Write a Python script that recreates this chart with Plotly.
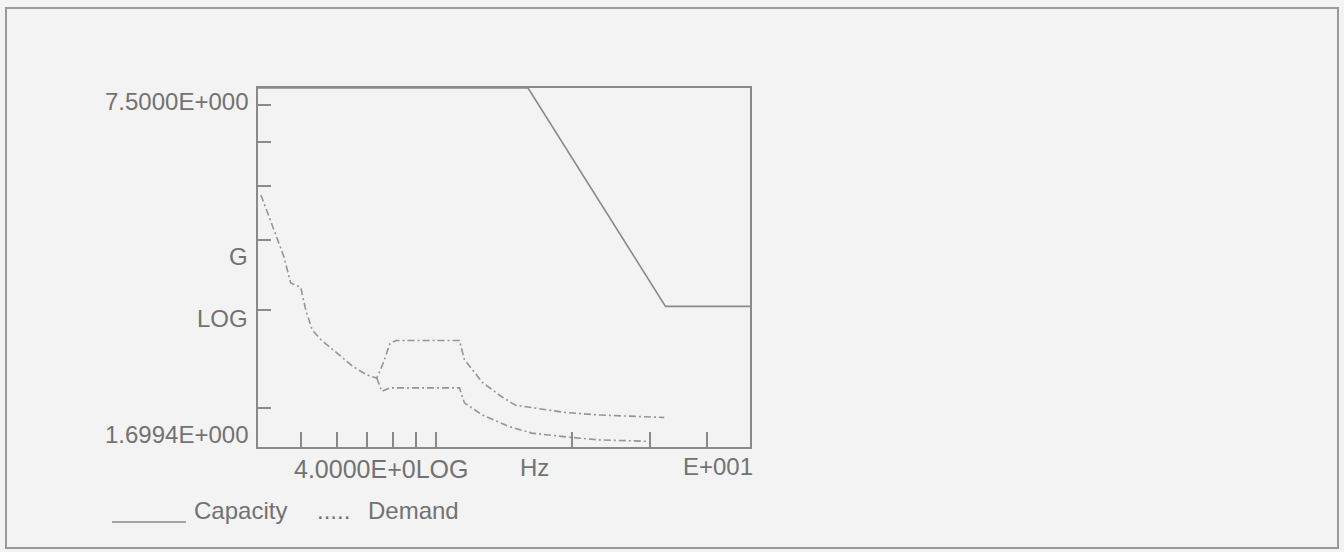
import plotly.graph_objects as go
import math

# ---- data ----
cap_freq = [4.0, 16.0, 32.4, 50.0]
cap_g = [7.5, 7.5, 3.04, 3.04]

dem_common_freq = [4.06, 4.31, 4.57, 4.73, 4.98, 5.11, 5.28, 5.52, 6.0, 6.52, 6.99, 7.36]
dem_common_g = [4.82, 4.23, 3.73, 3.35, 3.29, 3.00, 2.76, 2.65, 2.51, 2.37, 2.29, 2.26]

dem_hi_freq = [7.6, 7.88, 8.15, 11.25, 11.54, 12.65, 14.0, 15.0, 16.3, 19.4, 23.0, 32.2]
dem_hi_g = [2.40, 2.61, 2.64, 2.64, 2.44, 2.22, 2.09, 2.02, 2.00, 1.96, 1.94, 1.92]

dem_lo_freq = [7.55, 7.88, 11.25, 11.54, 12.65, 14.5, 16.3, 19.7, 23.0, 29.6]
dem_lo_g = [2.14, 2.17, 2.17, 2.04, 1.94, 1.85, 1.80, 1.77, 1.75, 1.74]

x_ticks = [5, 6, 7, 8, 9, 10, 20, 30, 40]
y_ticks = [2, 3, 4, 5, 6, 7]
x_min, x_max = 4.0, 50.0
y_min, y_max = 1.6994, 7.5

# ---- layout geometry ----
W, H = 1344, 552
L, R, T, B = 258, 750, 88, 447
PW, PH = R - L, B - T

def px(x):
    return (x - L) / PW

def py(y):
    return (B - y) / PH

GREY = "#8a8a8a"
TXT = "#727272"
BG = "#f3f3f3"
FONT = "Liberation Sans, Arial, sans-serif"

fig = go.Figure()

fig.add_trace(go.Scatter(x=cap_freq, y=cap_g, mode="lines",
                         line=dict(color=GREY, width=1.6), showlegend=False))

dash = "7px,3px,2px,3px"
fig.add_trace(go.Scatter(x=dem_common_freq + dem_hi_freq, y=dem_common_g + dem_hi_g,
                         mode="lines", line=dict(color="#959595", width=1.6, dash=dash),
                         showlegend=False))
fig.add_trace(go.Scatter(x=dem_common_freq[-1:] + dem_lo_freq, y=dem_common_g[-1:] + dem_lo_g,
                         mode="lines", line=dict(color="#959595", width=1.6, dash=dash),
                         showlegend=False))

axis_common = dict(type="log", showline=True, mirror=True, linecolor=GREY, linewidth=2,
                   ticks="inside", tickcolor=GREY, tickwidth=1.5, showgrid=False,
                   zeroline=False, showticklabels=False)

fig.update_xaxes(range=[math.log10(x_min), math.log10(x_max)], tickvals=x_ticks,
                 ticklen=15, **axis_common)
fig.update_yaxes(range=[math.log10(y_min), math.log10(y_max)], tickvals=y_ticks,
                 ticklen=13, **axis_common)

annots = []
def txt(text, x, y, xanchor="left", size=24):
    annots.append(dict(text=text, x=px(x), y=py(y), xref="paper", yref="paper",
                       xanchor=xanchor, yanchor="middle", showarrow=False,
                       font=dict(family=FONT, size=size, color=TXT)))

txt("7.5000E+000", 250, 102, "right")
txt("G", 250, 256, "right")
txt("LOG", 250, 318, "right")
txt("1.6994E+000", 250, 434, "right")
txt("4.0000E+0LOG", 292, 469, size=25)
txt("Hz", 518, 467)
txt("E+001", 681, 466)
txt("Capacity", 192, 510)
txt(".....", 315, 510)
txt("Demand", 366, 510)

fig.update_layout(
    width=W, height=H,
    margin=dict(l=L, r=W - R, t=T, b=H - B, pad=0),
    paper_bgcolor=BG, plot_bgcolor=BG,
    annotations=annots,
    shapes=[dict(type="rect", xref="paper", yref="paper",
                 x0=px(6), x1=px(1338), y0=py(548), y1=py(8),
                 line=dict(color="#9a9a9a", width=2)),
            dict(type="line", xref="paper", yref="paper",
                 x0=px(112), x1=px(186), y0=py(522), y1=py(522),
                 line=dict(color="#8a8a8a", width=1.5))],
    showlegend=False,
)

fig.write_html("out.html")
